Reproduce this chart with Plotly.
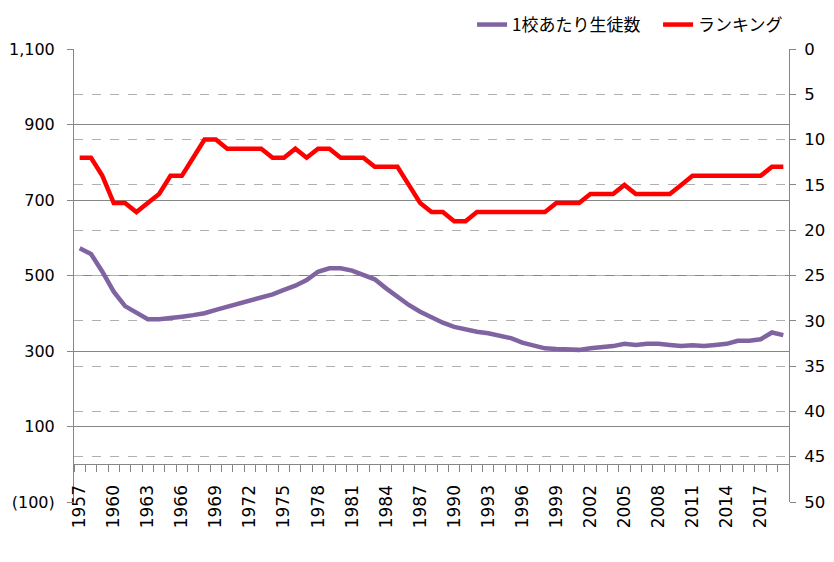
import plotly.graph_objects as go

years = list(range(1957, 2020))

students_per_school = [
    572, 557, 510, 457, 419, 400, 384, 384, 386, 391,
    395, 400, 409, 417, 428, 435, 441, 450, 462, 473,
    488, 510, 519, 519, 513, 503, 490, 466, 444, 422,
    404, 389, 375, 364, 356, 351, 347, 340, 334, 322,
    313, 307, 305, 303, 303, 307, 309, 313, 319, 316,
    319, 319, 316, 313, 315, 313, 316, 319, 327, 327,
    331, 349, 342,
]

ranking = [
    12, 12, 14, 17, 17, 18, 17, 16, 14, 14,
    12, 10, 10, 11, 11, 11, 11, 12, 12, 11,
    12, 11, 11, 12, 12, 12, 13, 13, 13, 15,
    17, 18, 18, 19, 19, 18, 18, 18, 18, 18,
    18, 18, 17, 17, 17, 16, 16, 16, 15, 16,
    16, 16, 16, 15, 14, 14, 14, 14, 14, 14,
    14, 13, 13,
]

left_tickvals = [-100, 100, 300, 500, 700, 900, 1100]
left_ticktext = ["(100)", "100", "300", "500", "700", "900", "1,100"]
right_tickvals = [0, 5, 10, 15, 20, 25, 30, 35, 40, 45, 50]

name_students = "1校あたり生徒数"
name_rank = "ランキング"

AXIS = "#868686"
LEFTFONT = dict(family="DejaVu Sans", size=16, color="#000000")
NUMFONT = dict(family="DejaVu Sans", size=16.5, color="#000000")
XFONT = dict(family="DejaVu Sans", size=17, color="#000000")

fig = go.Figure()
fig.add_trace(go.Scatter(
    x=years, y=students_per_school, name=name_students, mode="lines",
    line=dict(color="#8064A2", width=4.5), yaxis="y",
))
fig.add_trace(go.Scatter(
    x=years, y=ranking, name=name_rank, mode="lines",
    line=dict(color="#FF0000", width=4.5), yaxis="y2",
))

# page body has an 8px default margin, so the figure is sized to fit inside it
fig.update_layout(
    width=826, height=554,
    margin=dict(l=66, r=45, t=41, b=60, autoexpand=False),
    paper_bgcolor="white", plot_bgcolor="white",
    showlegend=True,
    legend=dict(
        orientation="h", x=1.077, xanchor="right", y=1.053, yanchor="middle",
        font=dict(family="Noto Sans CJK JP", size=17, color="#000000"),
        itemwidth=30, entrywidth=141, bgcolor="rgba(0,0,0,0)",
    ),
    xaxis=dict(
        range=[1956.5, 2019.5],
        tickmode="linear", tick0=1957, dtick=3,
        tickangle=-90,
        tickfont=XFONT,
        ticks="outside", ticklen=7, tickcolor="rgba(0,0,0,0)",
        showgrid=False, zeroline=False,
        showline=True, linecolor=AXIS, linewidth=1,
        anchor="free", position=100 / 1200,
        automargin=False,
        ticklabelstandoff=6,
        minor=dict(ticks="outside", tick0=1956.5, dtick=1, ticklen=7,
                   tickcolor=AXIS, showgrid=False),
    ),
    yaxis=dict(
        range=[-100, 1100],
        tickmode="array", tickvals=left_tickvals, ticktext=left_ticktext,
        tickfont=LEFTFONT,
        ticks="outside", ticklen=6, tickcolor=AXIS,
        showgrid=True, gridcolor=AXIS, gridwidth=1,
        zeroline=False,
        showline=True, linecolor=AXIS, linewidth=1,
        ticklabelstandoff=9,
        automargin=False,
    ),
    yaxis2=dict(
        range=[50, 0],
        overlaying="y", side="right",
        tickmode="array", tickvals=right_tickvals,
        tickfont=NUMFONT,
        ticks="outside", ticklen=6, tickcolor=AXIS,
        showgrid=True, gridcolor="#B0B0B0", gridwidth=1, griddash="dash",
        zeroline=False,
        showline=True, linecolor=AXIS, linewidth=1,
        ticklabelstandoff=5,
        automargin=False,
    ),
)

fig.write_html("out.html")
